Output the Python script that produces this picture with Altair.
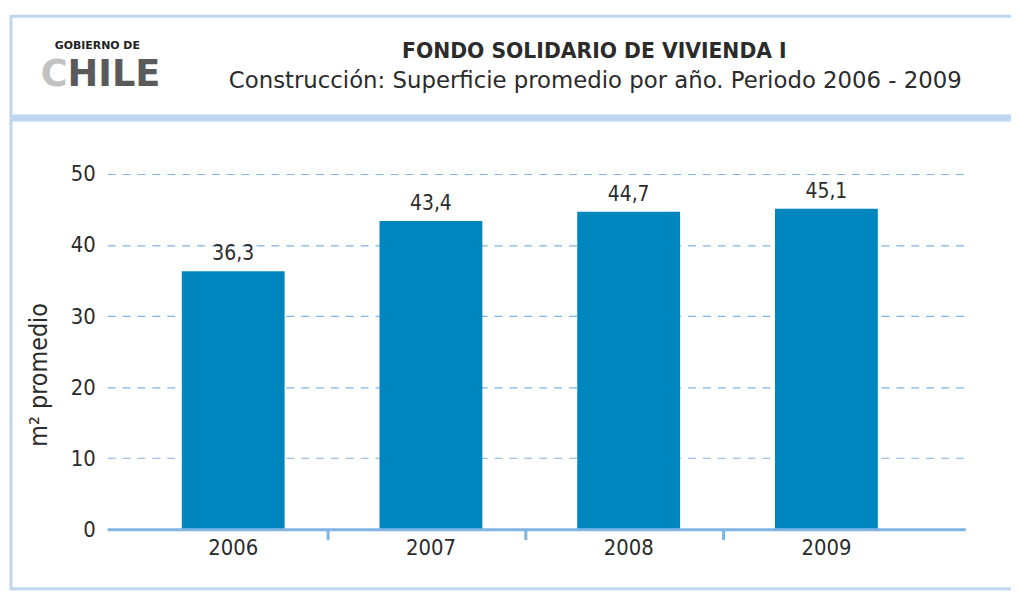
import altair as alt
import pandas as pd

# ---- data ----
years = ["2006", "2007", "2008", "2009"]
values = [36.3, 43.4, 44.7, 45.1]
y_ticks = [0, 10, 20, 30, 40, 50]

title_text = "FONDO SOLIDARIO DE VIVIENDA I"
subtitle_text = "Construcción: Superficie promedio por año. Periodo 2006 - 2009"
y_title = "m² promedio"
logo_top = "GOBIERNO DE"
logo_c = "C"
logo_rest = "HILE"

df = pd.DataFrame({
    "year": years,
    "value": values,
    "label": [f"{v:.1f}".replace(".", ",") for v in values],
})

# ---- styles ----
W, H = 865, 358
BAR = "#0086bf"
AXIS = "#80b4e4"
FRAME = "#bed6ef"
TXT = "#2b2b2b"
NUMFONT = "Liberation Sans Narrow, DejaVu Sans Condensed, sans-serif"
HEADFONT = "DejaVu Sans, sans-serif"
P_IN, P_OUT, ALIGN = 0.48, 0.41, 0.46
step = W / (len(years) - P_IN + 2 * P_OUT)
tick_offset = step * (1 - P_IN) / 2 + step / 2

xscale = alt.Scale(paddingInner=P_IN, paddingOuter=P_OUT, align=ALIGN)
yscale = alt.Scale(domain=[0, 50], nice=False)

base = alt.Chart(df)

bars = base.mark_bar(color=BAR).encode(
    x=alt.X("year:N", scale=xscale, sort=years,
            axis=alt.Axis(title=None, labelAngle=0, labelFontSize=22,
                          labelFont=NUMFONT, labelColor=TXT, ticks=False,
                          labelPadding=9, domainColor=AXIS, domainWidth=3,
                          grid=False, zindex=2)),
    y=alt.Y("value:Q", scale=yscale,
            axis=alt.Axis(values=y_ticks, title=y_title, domain=False, ticks=False,
                          labelFontSize=22, labelFont=NUMFONT, labelColor=TXT,
                          labelPadding=12, grid=True, gridColor=AXIS,
                          gridDash=[8, 7], gridWidth=1.2,
                          titleFont=NUMFONT, titleFontSize=25, titleFontWeight="normal",
                          titleColor=TXT, titleX=-69, titleY=202,
                          titleBaseline="middle", titleAlign="center")),
)

labels = base.mark_text(baseline="bottom", dy=-7, fontSize=21, font=NUMFONT,
                        color=TXT).encode(
    x=alt.X("year:N", scale=xscale, sort=years),
    y=alt.Y("value:Q", scale=yscale),
    text="label:N",
)

ticks = base.transform_filter(
    alt.FieldOneOfPredicate(field="year", oneOf=years[:-1])
).mark_rule(color=AXIS, strokeWidth=3).encode(
    x=alt.X("year:N", scale=xscale, sort=years),
    xOffset=alt.value(tick_offset - 4),
    y=alt.value(H),
    y2=alt.value(H + 11),
)

one = alt.Chart(pd.DataFrame({"k": [0]}))

# frame
frame_top = one.mark_rule(color=FRAME, strokeWidth=3).encode(
    x=alt.value(-98), x2=alt.value(W + 46), y=alt.value(-159))
frame_left = one.mark_rule(color=FRAME, strokeWidth=3).encode(
    x=alt.value(-97), y=alt.value(-160), y2=alt.value(419))
frame_bottom = one.mark_rule(color=FRAME, strokeWidth=3).encode(
    x=alt.value(-98), x2=alt.value(W + 46), y=alt.value(418))
frame_band = one.mark_rect(color=FRAME).encode(
    x=alt.value(-98), x2=alt.value(W + 46), y=alt.value(-60), y2=alt.value(-53))

title = one.mark_text(font=HEADFONT, fontSize=20.5, fontWeight="bold", color=TXT,
                      align="center", baseline="alphabetic").encode(
    x=alt.value(491), y=alt.value(-117), text=alt.value(title_text))
subtitle = one.mark_text(font=HEADFONT, fontSize=23, color=TXT,
                         align="center", baseline="alphabetic").encode(
    x=alt.value(492), y=alt.value(-87), text=alt.value(subtitle_text))

logo1 = one.mark_text(font="DejaVu Sans", fontSize=11, fontWeight="bold", color="#222",
                      align="center", baseline="alphabetic").encode(
    x=alt.value(-10), y=alt.value(-126), text=alt.value(logo_top))
logo2 = one.mark_text(font="DejaVu Sans", fontSize=37, fontWeight="bold", color="#c2c2c2",
                      align="left", baseline="alphabetic").encode(
    x=alt.value(-67), y=alt.value(-89), text=alt.value(logo_c))
logo3 = one.mark_text(font="DejaVu Sans", fontSize=37, fontWeight="bold", color="#5a5a5a",
                      align="left", baseline="alphabetic").encode(
    x=alt.value(-40), y=alt.value(-89), text=alt.value(logo_rest))

chart = alt.layer(
    frame_band, frame_top, frame_left, frame_bottom,
    bars, labels, ticks, title, subtitle, logo1, logo2, logo3,
).properties(
    width=W, height=H,
    autosize=alt.AutoSizeParams(type="none"),
    padding={"left": 100, "top": 165, "right": 46, "bottom": 62},
    background="white",
).configure_view(strokeWidth=0)

chart.save("out.html", embed_options={"renderer": "svg", "actions": False})
